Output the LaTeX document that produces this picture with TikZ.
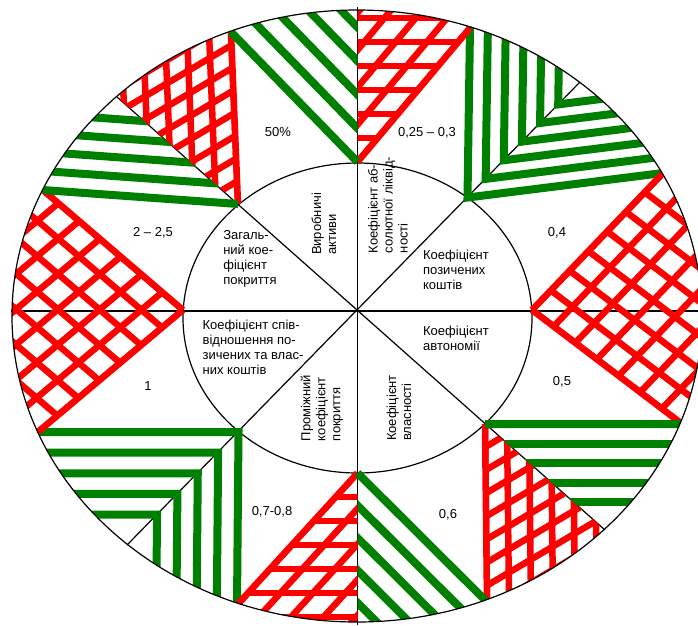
\documentclass[tikz,border=0pt]{standalone}
\usepackage{fontspec}
\setmainfont{Liberation Sans}
\usetikzlibrary{calc}
\definecolor{ink}{HTML}{000000}
\definecolor{gridred}{HTML}{FF0000}
\definecolor{stripegreen}{HTML}{008000}
\tikzset{
  rim/.style={draw=ink, line width=1.2pt},
  redline/.style={draw=gridred, line width=6.5pt},
  greenline/.style={draw=stripegreen, line width=8pt},
  ratio/.style={font=\fontsize{13}{15}\selectfont, inner sep=0pt},
  coef/.style={font=\fontsize{13}{15}\selectfont, align=left, inner sep=0pt}
}
% thick parallel lines running like (#1)--(#2), #4 apart, for k in #5
\newcommand{\hatch}[5]{%
  \pgfmathanglebetweenpoints{\pgfpointanchor{#1}{center}}{\pgfpointanchor{#2}{center}}%
  \let\hatchangle\pgfmathresult
  \begin{scope}[shift={(#1)}, rotate=\hatchangle]
    \foreach \k in {#5} \draw[#3] (-800,\k*#4) -- (800,\k*#4);
  \end{scope}}

\begin{document}
\begin{tikzpicture}[x=1pt, y=-1pt]
  \useasboundingbox (0,0) rectangle (698,625);

  % centres, spoke corners on the inner oval, spoke ends on the outer oval
  \coordinate (M) at (357,316);
  \coordinate (m) at (357.5,318);
  \coordinate (V0) at (532,310);
  \coordinate (V45) at (467.5,197.5);
  \coordinate (V90) at (357.5,162);
  \coordinate (V135) at (238,204);
  \coordinate (V180) at (183,310);
  \coordinate (V225) at (238.5,432);
  \coordinate (V270) at (357.5,473);
  \coordinate (V315) at (485,424);
  \coordinate (E0) at (702,311);
  \coordinate (E45) at (580,82);
  \coordinate (E90) at (357.5,7);
  \coordinate (E135) at (117,97);
  \coordinate (E180) at (11,311);
  \coordinate (E225) at (127,545);
  \coordinate (E270) at (357.5,625);
  \coordinate (E315) at (605,530);
  % tips of the hatched wedges
  \coordinate (B) at (663,173);
  \coordinate (A) at (470,28);
  \coordinate (Q) at (231,32);
  \coordinate (P) at (43,190);
  \coordinate (R) at (38,432);
  \coordinate (S) at (237,605);
  \coordinate (T) at (487,602);
  \coordinate (U) at (682,424);
  \coordinate (d135) at ($(V135)+(103,-61)$);
  \coordinate (d315) at ($(V315)+(-103,61)$);
  \coordinate (h90) at ($(V90)+(100,0)$);
  \coordinate (h270) at ($(V270)+(-100,0)$);

  \draw[rim] (m) ellipse [x radius=174.5pt, y radius=155pt];
  \draw[rim] (E180) -- (E0);
  \draw[rim] (E90) -- (E270);
  \draw[rim] (E135) -- (E315);
  \draw[rim] (E45) -- (E225);

  \begin{scope}
    \clip (M) ellipse [x radius=345pt, y radius=306pt];
    % red grids
    \begin{scope}
      \clip (V0) -- ($(V0)!1.6!(B)$) -- ($(V0)!1.6!(U)$) -- cycle;
      \hatch{V0}{B}{redline}{27}{-14,...,14}
      \hatch{V0}{U}{redline}{27}{-14,...,14}
    \end{scope}
    \begin{scope}
      \clip (V180) -- ($(V180)!1.6!(P)$) -- ($(V180)!1.6!(R)$) -- cycle;
      \hatch{V180}{P}{redline}{27}{-14,...,14}
      \hatch{V180}{R}{redline}{27}{-14,...,14}
    \end{scope}
    \begin{scope}
      \clip (V90) -- ($(V90)!1.6!(E90)$) -- ($(V90)!1.6!(A)$) -- cycle;
      \hatch{V90}{A}{redline}{24}{-14,...,14}
      \hatch{V90}{h90}{redline}{24}{-14,...,14}
    \end{scope}
    \begin{scope}
      \clip (V270) -- ($(V270)!1.6!(E270)$) -- ($(V270)!1.6!(S)$) -- cycle;
      \hatch{V270}{S}{redline}{24}{-14,...,14}
      \hatch{V270}{h270}{redline}{24}{-14,...,14}
    \end{scope}
    \begin{scope}
      \clip (V135) -- ($(V135)!1.6!(Q)$) -- ($(V135)!1.6!(E135)$) -- cycle;
      \hatch{V135}{Q}{redline}{22}{-14,...,14}
      \hatch{V135}{d135}{redline}{20}{-14,...,14}
    \end{scope}
    \begin{scope}
      \clip (V315) -- ($(V315)!1.6!(T)$) -- ($(V315)!1.6!(E315)$) -- cycle;
      \hatch{V315}{T}{redline}{22}{-14,...,14}
      \hatch{V315}{d315}{redline}{20}{-14,...,14}
    \end{scope}
    % green stripes
    \begin{scope}
      \clip (V90) -- ($(V90)!1.6!(Q)$) -- ($(V90)!1.6!(E90)$) -- cycle;
      \hatch{V90}{Q}{greenline}{23.5}{1,...,4}
    \end{scope}
    \begin{scope}
      \clip (V270) -- ($(V270)!1.6!(T)$) -- ($(V270)!1.6!(E270)$) -- cycle;
      \hatch{V270}{T}{greenline}{23}{1,...,4}
    \end{scope}
    \begin{scope}
      \clip (V135) -- ($(V135)!1.6!(E135)$) -- ($(V135)!1.6!(P)$) -- cycle;
      \hatch{V135}{P}{greenline}{19}{1,...,4}
    \end{scope}
    \begin{scope}
      \clip (V315) -- ($(V315)!1.6!(E315)$) -- ($(V315)!1.6!(U)$) -- cycle;
      \hatch{V315}{U}{greenline}{19.5}{1,...,4}
    \end{scope}
    % green chevrons
    \foreach \k in {0,...,5} {
      \coordinate (c) at ($(V45)!\k*26pt!(E45)$);
      \draw[greenline] ($(c)+1.5*(A)-1.5*(V45)$) -- (c) -- ($(c)+1.5*(B)-1.5*(V45)$);
    }
    \foreach \k in {0,...,4} {
      \coordinate (c) at ($(V225)!\k*29pt!(E225)$);
      \draw[greenline] ($(c)+1.5*(R)-1.5*(V225)$) -- (c) -- ($(c)+1.5*(S)-1.5*(V225)$);
    }
    % wedge edges
    \draw[redline] (V0) -- (B) (V0) -- (U) (V180) -- (P) (V180) -- (R);
    \draw[redline] (V90) -- (A) (V270) -- (S) (V135) -- (Q) (V315) -- (T);
    \draw[greenline] (V90) -- (Q) (V270) -- (T) (V135) -- (P) (V315) -- (U);
  \end{scope}
  \draw[rim] (M) ellipse [x radius=345pt, y radius=306pt];

  \node[ratio] (r50) at (278,132) {50\%};
  \node[ratio] (r025) at (427,133) {0,25 – 0,3};
  \node[ratio] (r04) at (557,233) {0,4};
  \node[ratio] (r05) at (562,382) {0,5};
  \node[ratio] (r06) at (448,515) {0,6};
  \node[ratio] (r07) at (272,512) {0,7-0,8};
  \node[ratio] (r1) at (148,386) {1};
  \node[ratio] (r2) at (153,233) {2 – 2,5};

  \node[coef, rotate=90] (assets) at (324,224) {Виробничі\\активи};
  \node[coef, rotate=90] (absliq) at (388,205) {Коефіцієнт аб-\\солютної ліквід-\\ності};
  \node[coef] (borrowed) at (456,270) {Коефіцієнт\\позичених\\коштів};
  \node[coef] (autonomy) at (456,338) {Коефіцієнт\\автономії};
  \node[coef, rotate=90] (ownership) at (399,408) {Коефіцієнт\\власності};
  \node[coef, rotate=90] (interim) at (322,408) {Проміжний\\коефіцієнт\\покриття};
  \node[coef] (debtequity) at (253,347) {Коефіцієнт спів-\\відношення по-\\зичених та влас-\\них коштів};
  \node[coef] (overall) at (250,259) {Загаль-\\ний кое-\\фіцієнт\\покриття};
\end{tikzpicture}
\end{document}
